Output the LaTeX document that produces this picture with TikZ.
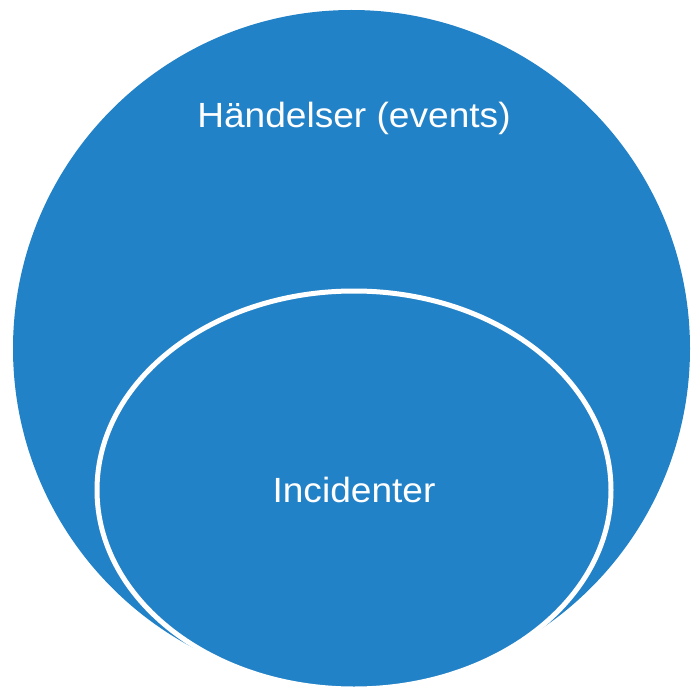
\documentclass[tikz,border=0pt]{standalone}
\usepackage{fontspec}
\setmainfont{Liberation Sans}[FakeStretch=1.06]
\definecolor{fillblue}{RGB}{34,130,200}
\begin{document}
\begin{tikzpicture}[x=1pt,y=-1pt,
  setshape/.style={fill=fillblue},
  labeltext/.style={text=white,font=\fontsize{35}{42}\selectfont,anchor=base,inner sep=0pt}]
\useasboundingbox (0,0) rectangle (691,690);
\fill[setshape] (351.5,348.5) circle[radius=338.5];
\path[setshape,draw=white,line width=5pt] (354,490) ellipse[x radius=257,y radius=199];
\node[labeltext] (events) at (354,128) {Händelser (events)};
\node[labeltext] (incid) at (354,502) {Incidenter};
\end{tikzpicture}
\end{document}
